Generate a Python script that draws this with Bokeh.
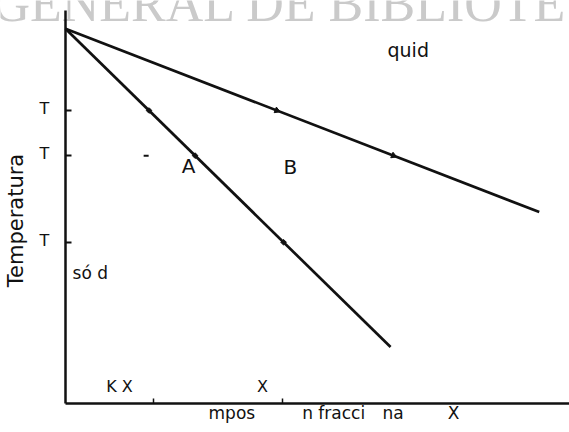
import numpy as np
from bokeh.plotting import figure
from bokeh.models import Range1d, FixedTicker, Label
from bokeh.embed import file_html
from bokeh.resources import INLINE

# Phase diagram: composition (fraction of X, %) vs temperature (arbitrary units)
liquidus_x = [0.0, 94.0]
liquidus_t = [93.0, 47.5]
solidus_x = [0.0, 64.5]
solidus_t = [93.0, 14.0]

# Temperature levels marked on the axis and compositions marked on the x axis
t_levels = [72.7, 61.5, 40.0]
t_labels = ["T", "T", "T"]
comp_ticks = [17.5, 43.0]

FONT = "DejaVu Sans"
INK = "#111111"

p = figure(width=569, height=432, output_backend="svg", toolbar_location=None,
           x_range=Range1d(-12.9, 100), y_range=Range1d(-7.2, 100),
           min_border=0)
p.grid.visible = False
p.outline_line_color = None
p.background_fill_color = "white"
p.border_fill_color = "white"

# Left axis: temperature, drawn at composition 0
ya = p.yaxis[0]
ya.fixed_location = 0
ya.ticker = FixedTicker(ticks=t_levels)
ya.major_label_overrides = {v: "" for v in t_levels}
ya.bounds = (0, 97.5)
ya.axis_line_width = 2.5
ya.axis_line_color = INK
ya.major_tick_in = 6
ya.major_tick_out = 0
ya.major_tick_line_width = 2
ya.major_tick_line_color = INK
ya.minor_tick_line_color = None

# Bottom axis: composition, drawn at temperature 0
xa = p.xaxis[0]
xa.fixed_location = 0
xa.ticker = FixedTicker(ticks=comp_ticks)
xa.major_label_overrides = {v: "" for v in comp_ticks}
xa.bounds = (0, 100)
xa.axis_line_width = 2.5
xa.axis_line_color = INK
xa.major_tick_in = 5
xa.major_tick_out = 0
xa.major_tick_line_width = 1.5
xa.major_tick_line_color = INK
xa.minor_tick_line_color = None

# Faint lettering across the top of the page
p.add_layout(Label(x=-14.5, y=99.3, text="GENERAL DE BIBLIOTE",
                   text_font="Liberation Serif", text_font_size="52px",
                   text_color="#cacaca", text_align="left",
                   text_baseline="alphabetic", level="underlay"))

# Liquidus and solidus
p.line(liquidus_x, liquidus_t, line_width=2.7, line_color=INK)
p.line(solidus_x, solidus_t, line_width=2.7, line_color=INK)


def comp_at(t, xs, ts):
    # composition where a straight boundary line reaches temperature t
    return np.interp(t, ts[::-1], xs[::-1])


# Marks where the temperature levels cross the boundaries
liq_px = [comp_at(t, liquidus_x, liquidus_t) for t in t_levels[:2]]
sol_px = [comp_at(t, solidus_x, solidus_t) for t in t_levels]
p.scatter(liq_px, t_levels[:2], marker="triangle", size=6, angle=-1.95,
          fill_color=INK, line_color=INK)
p.scatter(sol_px, t_levels, marker="square", size=4, angle=0.77,
          fill_color=INK, line_color=INK)
p.scatter([comp_ticks[0] - 1.5], [t_levels[1]], marker="dash", size=5,
          line_color=INK, line_width=2)


def lab(x, y, text, size="16px", align="center", baseline="middle", angle=0.0):
    p.add_layout(Label(x=x, y=y, text=text, text_font=FONT,
                       text_font_size=size, text_color=INK,
                       text_align=align, text_baseline=baseline, angle=angle))


# Axis texts
for t, s in zip(t_levels, t_labels):
    lab(-4.2, t + 0.5, s, "16px")
lab(-9.8, 45.4, "Temperatura", "21px", angle=np.pi / 2)

# Region and point labels
lab(68.0, 87.6, "quid", "19px")
lab(44.6, 58.8, "B", "20px")
lab(24.4, 59.0, "A", "20px")
lab(1.4, 32.5, "só d", "17px", align="left")
lab(10.7, 4.2, "K X", "16px")
lab(39.1, 4.2, "X", "16px")

# Axis caption beneath the composition axis
lab(33.0, -2.3, "mpos", "17px")
lab(53.2, -2.3, "n fracci", "17px")
lab(65.0, -2.3, "na", "17px")
lab(77.0, -2.3, "X", "17px")

open("out.html", "w").write(file_html(p, INLINE))
